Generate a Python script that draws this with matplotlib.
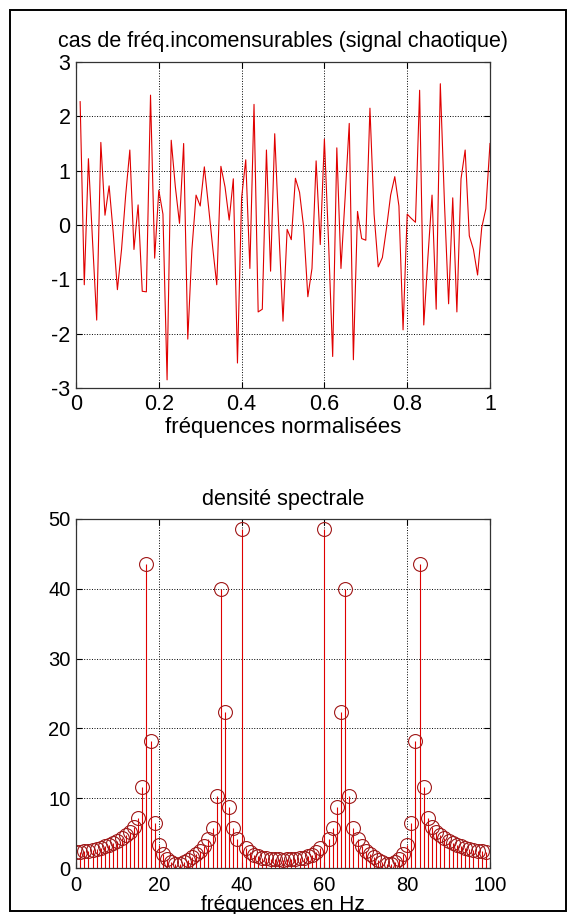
"""Signal chaotique (fréquences incommensurables) et sa densité spectrale, style MATLAB."""
import matplotlib
matplotlib.use("Agg")
import matplotlib.pyplot as plt
from matplotlib.patches import Rectangle

plt.rcParams["font.family"] = ["Liberation Sans", "DejaVu Sans"]
plt.rcParams["axes.unicode_minus"] = False

# --- signal temporel : 100 échantillons, t = 0.01 .. 1.00
t_axis = [k / 100 for k in range(1, 101)]
signal = [
    2.27, -1.10, 1.22, -0.30, -1.75, 1.52, 0.18, 0.72, -0.15, -1.19,
    -0.45, 0.55, 1.38, -0.45, 0.37, -1.22, -1.23, 2.39, -0.61, 0.64,
    0.20, -2.85, 1.56, 0.70, 0.03, 1.50, -2.10, -0.45, 0.55, 0.35,
    1.07, 0.35, -0.40, -1.10, 1.08, 0.70, 0.09, 0.85, -2.54, 0.50,
    1.20, -0.80, 2.22, -1.60, -1.55, 1.38, -0.85, 1.68, -0.10, -1.77,
    -0.08, -0.27, 0.86, 0.60, -0.05, -1.32, -0.80, 1.18, -0.36, 1.58,
    -0.30, -2.42, 1.42, -0.80, 0.50, 1.87, -2.48, 0.25, -0.25, -0.28,
    2.15, 0.20, -0.77, -0.60, -0.06, 0.55, 0.89, 0.35, -1.93, 0.20,
    0.12, 0.05, 2.48, -1.84, -0.60, 0.55, -1.55, 2.60, 0.40, -1.45,
    0.50, -1.60, 0.85, 1.38, -0.20, -0.45, -0.92, -0.05, 0.30, 1.50,
]

# --- densité spectrale : 100 raies, f = 0 .. 99 Hz
freq_hz = list(range(100))
spectre = [
    2.3, 2.3, 2.4, 2.5, 2.6, 2.75, 2.9, 3.1, 3.3, 3.6,
    3.9, 4.3, 4.7, 5.2, 5.9, 7.2, 11.6, 43.5, 18.2, 6.4,
    3.3, 2.0, 1.3, 0.85, 0.6, 0.6, 0.85, 1.2, 1.6, 2.0,
    2.5, 3.2, 4.2, 5.8, 10.3, 40.0, 22.3, 8.7, 5.7, 4.1,
    48.6, 2.8, 2.3, 1.9, 1.7, 1.5, 1.4, 1.3, 1.27, 1.22,
    1.2, 1.22, 1.27, 1.3, 1.4, 1.5, 1.7, 1.9, 2.3, 2.8,
    48.6, 4.1, 5.7, 8.7, 22.3, 40.0, 10.3, 5.8, 4.2, 3.2,
    2.5, 2.0, 1.6, 1.2, 0.85, 0.6, 0.6, 0.85, 1.3, 2.0,
    3.3, 6.4, 18.2, 43.5, 11.6, 7.2, 5.9, 5.2, 4.7, 4.3,
    3.9, 3.6, 3.3, 3.1, 2.9, 2.75, 2.6, 2.5, 2.4, 2.3,
]

RED = "#e00000"
W, H = 576, 915


def _matlab_axes(ax, size=15.5, xpad=4):
    ax.grid(True, color="black", linestyle=":", linewidth=0.7)
    ax.tick_params(direction="in", top=True, right=True, labelsize=size,
                   length=4, width=0.8, pad=4)
    ax.tick_params(axis="x", pad=xpad)
    for sp in ax.spines.values():
        sp.set_linewidth(0.9)
        sp.set_color("#333333")


fig = plt.figure(figsize=(W / 100, H / 100), dpi=100)
fig.patch.set_facecolor("white")

# cadre noir autour de la figure
fig.patches.append(Rectangle((10 / W, 1 - 911 / H), 556 / W, 901 / H,
                             transform=fig.transFigure, fill=False,
                             edgecolor="black", linewidth=1.4))

# haut : signal
ax1 = fig.add_axes([76 / W, 1 - 388 / H, 414 / W, 326 / H])
ax1.plot(t_axis, signal, color=RED, linewidth=0.8)
ax1.set_xlim(0, 1)
ax1.set_ylim(-3, 3)
ax1.set_xticks([0, 0.2, 0.4, 0.6, 0.8, 1])
ax1.set_xticklabels(["0", "0.2", "0.4", "0.6", "0.8", "1"])
ax1.set_yticks(range(-3, 4))
_matlab_axes(ax1)
ax1.set_title("cas de fréq.incomensurables (signal chaotique)",
              fontsize=15.5, pad=11)
ax1.set_xlabel("fréquences normalisées", fontsize=16, labelpad=2)

# bas : densité spectrale (stem)
ax2 = fig.add_axes([76 / W, 1 - 868 / H, 414 / W, 349 / H])
ml, sl, bl = ax2.stem(freq_hz, spectre, linefmt="-", markerfmt="o",
                      basefmt=" ")
plt.setp(sl, color=RED, linewidth=0.8)
plt.setp(ml, markerfacecolor="none", markeredgecolor="#a01818",
         markersize=10, markeredgewidth=0.8)
ax2.set_xlim(0, 100)
ax2.set_ylim(0, 50)
ax2.set_xticks(range(0, 101, 20))
ax2.set_yticks(range(0, 51, 10))
_matlab_axes(ax2, size=14.5, xpad=5.5)
ax2.set_title("densité spectrale", fontsize=15.5, pad=10)
ax2.set_xlabel("fréquences en Hz", fontsize=15, labelpad=0)

fig.savefig("out.png", dpi=100, facecolor="white")
